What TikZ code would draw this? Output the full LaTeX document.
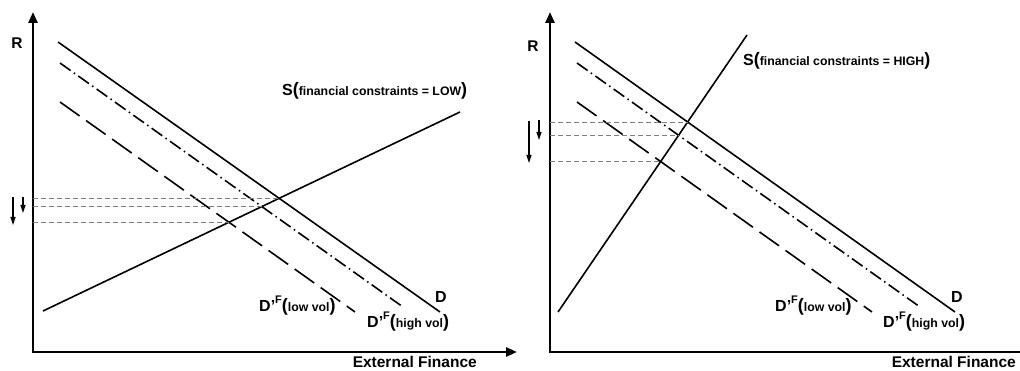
\documentclass[tikz,border=0pt]{standalone}
\usepackage{fontspec}
\setmainfont{Liberation Sans}
\usetikzlibrary{intersections,arrows.meta}
\newcommand\subtxt[1]{{\fontsize{12.3}{14}\selectfont #1}}
\newcommand\bigpar[1]{{\fontsize{18}{20}\selectfont #1}}
\newcommand\dprime{D’\raisebox{8pt}{\fontsize{11}{11}\selectfont F}}
\begin{document}
\begin{tikzpicture}[x=1pt,y=-1pt,
  axis/.style={line width=2.6pt, {Triangle[length=11pt,width=9pt]}-{Triangle[length=11pt,width=9pt]}},
  axisnoend/.style={line width=2.6pt, {Triangle[length=11pt,width=9pt]}-},
  curve/.style={line width=1.6pt},
  lowvol/.style={curve, dash pattern=on 24pt off 8pt},
  highvol/.style={curve, dash pattern=on 13pt off 4pt on 1.5pt off 4pt},
  guide/.style={gray, line width=0.7pt, dash pattern=on 5pt off 3pt},
  shiftarrow/.style={line width=1.2pt, -{Triangle[length=8pt,width=5pt]}},
  lbl/.style={font=\bfseries\fontsize{16}{18}\selectfont, inner sep=0pt},
  axlbl/.style={font=\bfseries\fontsize{15.5}{18}\selectfont, inner sep=0pt}]
\useasboundingbox (0,0) rectangle (1020,371);
\fill[white] (0,0) rectangle (1020,371);

% ---------- left panel ----------
\coordinate (LYtop) at (33,12);
\coordinate (LO) at (33,352);
\coordinate (LXend) at (517,352);
\draw[axis] (LYtop) |- (LXend);

\coordinate (LD1) at (58,42);   \coordinate (LD2) at (440,312);
\coordinate (LH1) at (60,63);   \coordinate (LH2) at (403,307);
\coordinate (LL1) at (60,102);  \coordinate (LL2) at (355,312);
\coordinate (LS1) at (43,311);  \coordinate (LS2) at (460,112);
\draw[curve, name path=LD] (LD1) -- (LD2);
\draw[highvol, name path=LH] (LH1) -- (LH2);
\draw[lowvol, name path=LL] (LL1) -- (LL2);
\draw[curve, name path=LS] (LS1) -- (LS2);
\path[name intersections={of=LS and LD, by=LiD}];
\path[name intersections={of=LS and LH, by=LiH}];
\path[name intersections={of=LS and LL, by=LiL}];
\draw[guide] (LO |- LiD) -- (LiD);
\draw[guide] (LO |- LiH) -- (LiH);
\draw[guide] (LO |- LiL) -- (LiL);

\coordinate (LA1s) at (13,197); \coordinate (LA1e) at (13,225);
\coordinate (LA2s) at (23,197); \coordinate (LA2e) at (23,213);
\draw[shiftarrow] (LA1s) -- (LA1e);
\draw[shiftarrow] (LA2s) -- (LA2e);

\node[axlbl] (LR) at (17,43) {R};
\node[axlbl, anchor=base east] (LXl) at (477,367) {External Finance};
\node[lbl, anchor=base west] (LSl) at (282,96) {S\bigpar{(}\subtxt{financial constraints = LOW}\bigpar{)}};
\node[lbl, anchor=base west] (LDl) at (435,303) {D};
\node[lbl, anchor=base west] (LHl) at (367,327) {\dprime\bigpar{(}\subtxt{high vol}\bigpar{)}};
\node[lbl, anchor=base west] (LLl) at (259,312) {\dprime\bigpar{(}\subtxt{low vol}\bigpar{)}};

% ---------- right panel ----------
\coordinate (RYtop) at (550,12);
\coordinate (RO) at (550,352);
\coordinate (RXend) at (1021,352);
\draw[axisnoend] (RYtop) |- (RXend);

\coordinate (RD1) at (575,42);  \coordinate (RD2) at (955,312);
\coordinate (RH1) at (577,63);  \coordinate (RH2) at (920,307);
\coordinate (RL1) at (577,102); \coordinate (RL2) at (872,312);
\coordinate (RS1) at (558,312); \coordinate (RS2) at (747,35);
\draw[curve, name path=RD] (RD1) -- (RD2);
\draw[highvol, name path=RH] (RH1) -- (RH2);
\draw[lowvol, name path=RL] (RL1) -- (RL2);
\draw[curve, name path=RS] (RS1) -- (RS2);
\path[name intersections={of=RS and RD, by=RiD}];
\path[name intersections={of=RS and RH, by=RiH}];
\path[name intersections={of=RS and RL, by=RiL}];
\draw[guide] (RO |- RiD) -- (RiD);
\draw[guide] (RO |- RiH) -- (RiH);
\draw[guide] (RO |- RiL) -- (RiL);

\coordinate (RA1s) at (529,121); \coordinate (RA1e) at (529,163);
\coordinate (RA2s) at (539,120); \coordinate (RA2e) at (539,140);
\draw[shiftarrow] (RA1s) -- (RA1e);
\draw[shiftarrow] (RA2s) -- (RA2e);

\node[axlbl] (RR) at (533,46) {R};
\node[axlbl, anchor=base east] (RXl) at (1016,367) {External Finance};
\node[lbl, anchor=base west] (RSl) at (743,66) {S\bigpar{(}\subtxt{financial constraints = HIGH}\bigpar{)}};
\node[lbl, anchor=base west] (RDl) at (951,303) {D};
\node[lbl, anchor=base west] (RHl) at (883,327) {\dprime\bigpar{(}\subtxt{high vol}\bigpar{)}};
\node[lbl, anchor=base west] (RLl) at (775,312) {\dprime\bigpar{(}\subtxt{low vol}\bigpar{)}};
\end{tikzpicture}
\end{document}
